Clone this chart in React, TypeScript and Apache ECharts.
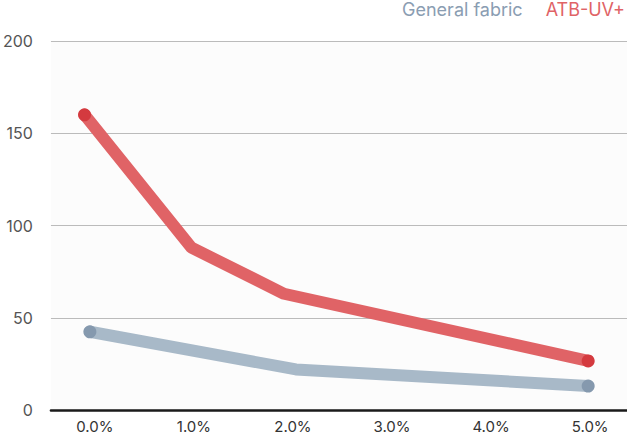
import React, { useEffect, useRef } from "react";
import * as echarts from "echarts";

const xTicks = [0, 1, 2, 3, 4, 5];
const yTicks = [0, 50, 100, 150, 200];
const seriesNames = ["General fabric", "ATB-UV+"];
const generalFabric: [number, number][] = [
  [-0.05, 42.4],
  [2.03, 22],
  [4.98, 13],
];
const atbUv: [number, number][] = [
  [-0.104, 160],
  [0.976, 88],
  [1.91, 63],
  [4.98, 26.6],
];

const FONT = "Inter, 'Noto Sans', sans-serif";

function toData(pts: [number, number][], dotColor: string) {
  return pts.map((p, i) => {
    const end = i === 0 || i === pts.length - 1;
    return end
      ? { value: p, symbol: "circle", symbolSize: 13, itemStyle: { color: dotColor } }
      : { value: p, symbol: "none" };
  });
}

export default function App() {
  const ref = useRef<HTMLDivElement>(null);
  useEffect(() => {
    if (!ref.current) return;
    const chart = echarts.init(ref.current, undefined, { renderer: "svg" });
    chart.setOption({
      animation: false,
      backgroundColor: "#ffffff",
      legend: {
        top: 0,
        right: 2,
        padding: 0,
        icon: "rect",
        itemWidth: 0,
        itemHeight: 0,
        itemGap: 18,
        selectedMode: false,
        data: [
          { name: seriesNames[0], textStyle: { color: "#8a9db2" } },
          { name: seriesNames[1], textStyle: { color: "#e06366" } },
        ],
        textStyle: { fontSize: 18, lineHeight: 18, fontFamily: FONT },
      },
      grid: {
        left: 49,
        right: 0,
        top: 41,
        bottom: 26,
        show: true,
        backgroundColor: "#fcfcfc",
        borderWidth: 0,
      },
      xAxis: {
        type: "value",
        min: -0.443,
        max: 5.372,
        splitLine: { show: false },
        axisTick: { show: false },
        axisLine: { show: true, lineStyle: { color: "#1a1a1a", width: 2.5 } },
        axisLabel: {
          customValues: xTicks,
          formatter: (v: number) => v.toFixed(1) + "%",
          color: "#333333",
          fontSize: 15,
          lineHeight: 12,
          fontFamily: FONT,
          margin: 10,
        },
      },
      yAxis: {
        type: "value",
        min: yTicks[0],
        max: yTicks[yTicks.length - 1],
        interval: 50,
        axisLine: { show: false },
        axisTick: { show: false },
        splitLine: { lineStyle: { color: "#bbbbbb", width: 1 } },
        axisLabel: {
          color: "#555555",
          fontSize: 16,
          fontFamily: FONT,
          margin: 18,
        },
      },
      series: [
        {
          name: seriesNames[0],
          type: "line",
          clip: false,
          data: toData(generalFabric, "#8599ae"),
          showSymbol: true,
          lineStyle: { color: "#a8b9c8", width: 12, cap: "round" },
          itemStyle: { color: "#a8b9c8" },
          z: 2,
        },
        {
          name: seriesNames[1],
          type: "line",
          clip: false,
          data: toData(atbUv, "#d43a3f"),
          showSymbol: true,
          lineStyle: { color: "#e06366", width: 12, cap: "round" },
          itemStyle: { color: "#e06366" },
          z: 3,
        },
      ],
    });
    return () => chart.dispose();
  }, []);
  return (
    <div
      ref={ref}
      style={{ position: "fixed", left: 0, top: 0, width: 627, height: 436 }}
    />
  );
}
